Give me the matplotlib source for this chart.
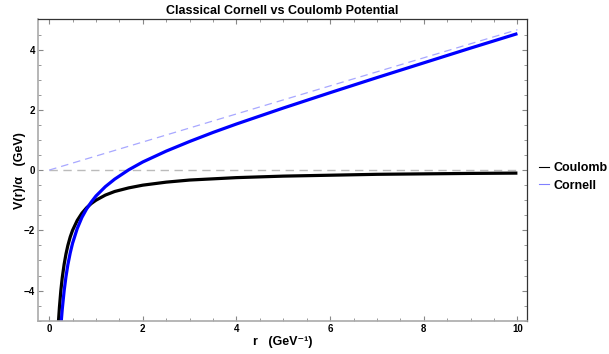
import matplotlib
matplotlib.use("Agg")
import matplotlib.pyplot as plt
from matplotlib.lines import Line2D
from matplotlib.ticker import MultipleLocator

# values
r_coulomb = [0.19, 0.2, 0.22, 0.25, 0.28, 0.32, 0.36, 0.4, 0.45, 0.5, 0.6, 0.7, 0.8, 0.9,
             1.0, 1.2, 1.4, 1.7, 2.0, 2.5, 3.0, 3.5, 4.0, 5.0, 6.0, 7.0, 8.0, 9.0, 10.0]
v_coulomb = [-5.26, -5.0, -4.55, -4.0, -3.57, -3.13, -2.78, -2.5, -2.22, -2.0, -1.67, -1.43, -1.25, -1.11,
             -1.0, -0.83, -0.71, -0.59, -0.5, -0.4, -0.33, -0.29, -0.25, -0.2, -0.17, -0.14, -0.125, -0.11, -0.1]

r_cornell = [0.25, 0.26, 0.28, 0.32, 0.36, 0.4, 0.45, 0.5, 0.6, 0.7, 0.8, 0.9, 1.0, 1.2, 1.4,
             1.7, 2.0, 2.5, 3.0, 3.5, 4.0, 5.0, 6.0, 7.0, 8.0, 9.0, 10.0]
v_cornell = [-5.20, -4.99, -4.62, -4.01, -3.53, -3.14, -2.75, -2.43, -1.94, -1.57, -1.29, -1.06, -0.86, -0.55, -0.30,
             0.01, 0.27, 0.63, 0.95, 1.25, 1.53, 2.06, 2.57, 3.07, 3.56, 4.05, 4.53]

r_guide = [0.0, 10.0]
v_linear = [0.0, 4.66]
v_zero = [0.0, 0.0]

xticks = [0, 2, 4, 6, 8, 10]
yticks = [-4, -2, 0, 2, 4]

plt.rcParams['font.family'] = ['Liberation Sans', 'DejaVu Sans']
plt.rcParams['font.weight'] = 'bold'

fig = plt.figure(figsize=(6.09, 3.54), dpi=100)
ax = fig.add_axes([0.063, 0.094, 0.802, 0.851])

# guide lines
ax.plot(r_guide, v_zero, color='#bbbbbb', lw=1.0, dashes=(6, 4))
ax.plot(r_guide, v_linear, color='#a8a8ff', lw=0.9, dashes=(6, 4))

ax.plot(r_coulomb, v_coulomb, color='black', lw=2.3, solid_capstyle='butt')
ax.plot(r_cornell, v_cornell, color='#0000ff', lw=2.3, solid_capstyle='butt')

ax.set_xlim(-0.23, 10.2)
ax.set_ylim(-5, 5)
ax.set_xticks(xticks)
ax.set_yticks(yticks)
ax.set_yticklabels(['\u22124', '\u22122', '0', '2', '4'])
ax.xaxis.set_minor_locator(MultipleLocator(0.5))
ax.yaxis.set_minor_locator(MultipleLocator(0.5))
ax.tick_params(which='both', direction='in', top=True, right=True,
               labeltop=False, labelright=False, color='#888888', labelsize=7, pad=2.5)
ax.tick_params(which='major', length=3.5, width=0.8)
ax.tick_params(which='minor', length=2, width=0.6)

for side in ['left', 'bottom']:
    ax.spines[side].set_color('#aaaaaa')
    ax.spines[side].set_linewidth(1.2)
for side in ['top', 'right']:
    ax.spines[side].set_color('#333333')
    ax.spines[side].set_linewidth(0.9)

ax.set_title('Classical Cornell vs Coulomb Potential', fontsize=9, fontweight='bold', pad=4)
ax.set_xlabel('r   (GeV\u207b\u00b9)', fontsize=9, fontweight='bold', labelpad=1)
ax.set_ylabel('V(r)/\u03b1   (GeV)', fontsize=9, fontweight='bold', labelpad=-2)

handles = [Line2D([], [], color='black', lw=0.8),
           Line2D([], [], color='#8080ff', lw=0.8)]
fig.legend(handles, ['Coulomb', 'Cornell'], loc='center left',
           bbox_to_anchor=(0.866, 0.50), frameon=False, handlelength=0.8,
           handletextpad=0.35, labelspacing=0.45, prop={'size': 9, 'weight': 'bold'})

fig.savefig('out.png', dpi=100)
